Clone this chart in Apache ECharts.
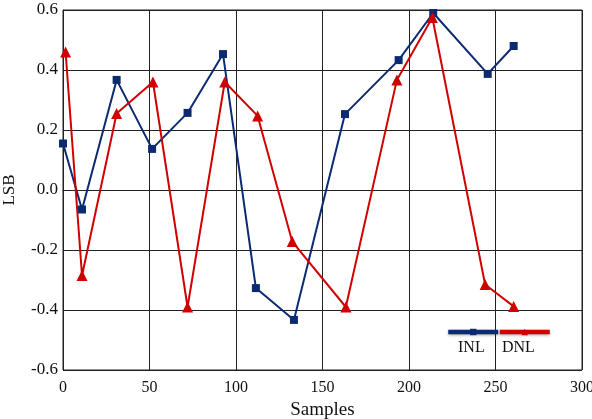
<!DOCTYPE html>
<html>
<head>
<meta charset="utf-8">
<script src="https://cdn.jsdelivr.net/npm/echarts@6/dist/echarts.min.js"></script>
<style>html,body{margin:0;padding:0;background:#fff}#c{width:592px;height:419px}</style>
</head>
<body>
<div id="c"></div>
<script>
const inlX = [0, 11, 31, 51.5, 72, 92.5, 111.5, 133.5, 163, 194, 214, 245.5, 260.5];
const inlY = [0.155, -0.065, 0.367, 0.137, 0.257, 0.453, -0.327, -0.433, 0.253, 0.433, 0.59, 0.387, 0.48];
const dnlX = [1.5, 11, 31, 52, 72, 93.5, 112.5, 132.5, 163.5, 193, 213.5, 244, 260.5];
const dnlY = [0.46, -0.285, 0.255, 0.36, -0.39, 0.36, 0.247, -0.172, -0.39, 0.367, 0.575, -0.315, -0.388];
const xTicks = [0, 50, 100, 150, 200, 250, 300];
const yTicks = [-0.6, -0.4, -0.2, 0.0, 0.2, 0.4, 0.6];
const seriesNames = ['INL', 'DNL'];

const font = 'Liberation Serif';
const chart = echarts.init(document.getElementById('c'));
const zip = (xs, ys) => xs.map((x, i) => [x, ys[i]]);
chart.setOption({
  animation: false,
  grid: {left: 63, right: 10, top: 10, bottom: 49, show: true, borderColor: '#222', borderWidth: 1,
    containLabel: false, outerBoundsMode: 'none'},
  xAxis: {
    type: 'value', min: xTicks[0], max: xTicks[xTicks.length - 1], interval: 50,
    name: 'Samples', nameLocation: 'middle', nameGap: 31,
    nameTextStyle: {fontFamily: font, fontSize: 19, color: '#111'},
    axisLine: {show: true, lineStyle: {color: '#222'}},
    axisTick: {show: false},
    axisLabel: {fontFamily: font, fontSize: 16, color: '#111', margin: 10},
    splitLine: {show: true, lineStyle: {color: '#222', width: 1}}
  },
  yAxis: {
    type: 'value', min: yTicks[0], max: yTicks[yTicks.length - 1], interval: 0.2,
    name: 'LSB', nameLocation: 'middle', nameGap: 45,
    nameTextStyle: {fontFamily: font, fontSize: 17, color: '#111'},
    axisLine: {show: true, lineStyle: {color: '#222'}},
    axisTick: {show: false},
    axisLabel: {fontFamily: font, fontSize: 17, color: '#111', margin: 5,
      formatter: v => v.toFixed(1)},
    splitLine: {show: true, lineStyle: {color: '#222', width: 1}}
  },
  legend: {
    data: seriesNames, left: 446, top: 328, padding: 0, itemWidth: 50, itemHeight: 8, itemGap: -3,
    formatter: () => '', textStyle: {fontSize: 1},
    lineStyle: {width: 4.5, shadowBlur: 3, shadowColor: 'rgba(0,0,0,0.35)', shadowOffsetY: 1}
  },
  graphic: [
    {type: 'text', left: 458, top: 340, style: {text: 'INL', font: '16px "Liberation Serif"', fill: '#111'}},
    {type: 'text', left: 502, top: 340, style: {text: 'DNL', font: '16px "Liberation Serif"', fill: '#111'}}
  ],
  series: [
    {name: seriesNames[0], type: 'line', data: zip(inlX, inlY), symbol: 'rect', symbolSize: 8,
      lineStyle: {color: '#0b2a72', width: 2}, itemStyle: {color: '#0b2a72'}},
    {name: seriesNames[1], type: 'line', data: zip(dnlX, dnlY), symbol: 'triangle', symbolSize: 11,
      lineStyle: {color: '#d00000', width: 2}, itemStyle: {color: '#d00000'}}
  ]
});
</script>
</body>
</html>
